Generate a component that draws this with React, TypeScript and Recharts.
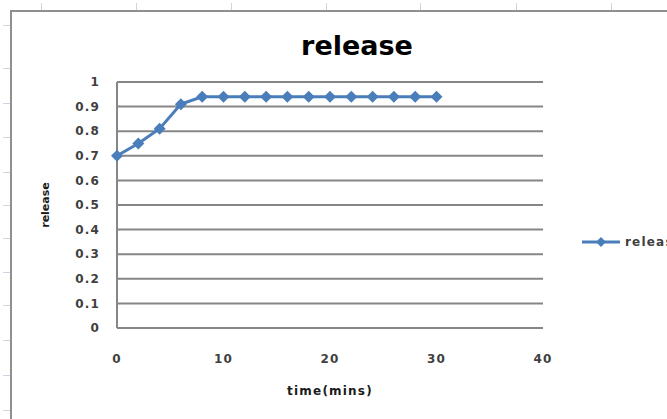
import React from 'react';
import { LineChart, Line, XAxis, YAxis, CartesianGrid, Legend, Label } from 'recharts';

// Fraction released over time
const minutes = [0, 2, 4, 6, 8, 10, 12, 14, 16, 18, 20, 22, 24, 26, 28, 30];
const releaseFraction = [
  0.7, 0.75, 0.81, 0.91, 0.94, 0.94, 0.94, 0.94,
  0.94, 0.94, 0.94, 0.94, 0.94, 0.94, 0.94, 0.94,
];
const xTicks = [0, 10, 20, 30, 40];
const yTicks = [0, 0.1, 0.2, 0.3, 0.4, 0.5, 0.6, 0.7, 0.8, 0.9, 1];
const seriesName = 'release';
const chartTitle = 'release';
const xTitle = 'time(mins)';
const yTitle = 'release';

const data = minutes.map((t, i) => ({ time: t, release: releaseFraction[i] }));

const BLUE = '#4a7ebb';
const GRID = '#868686';
const LABEL = '#3f3f3f';
const FONT = '"DejaVu Sans", "Open Sans", sans-serif';

// worksheet cell edges peeking out around the embedded chart
const columnEdges = [41, 136, 231, 326, 420, 516, 611];
const rowEdges = [25, 68, 103, 137, 172, 205, 238, 272, 305, 340, 375, 410];

const diamondPath = (cx: number, cy: number, r: number) =>
  `M${cx},${cy - r}L${cx + r},${cy}L${cx},${cy + r}L${cx - r},${cy}Z`;

const renderDot = (p: any) => {
  if (p.cx == null || p.cy == null) return <g key={`d${p.index}`} />;
  return <path key={`d${p.index}`} d={diamondPath(p.cx, p.cy, 6)} fill={BLUE} />;
};

const LegendContent = (props: any) => {
  const items = props.payload || [];
  return (
    <div style={{ width: 140 }}>
      {items.map((entry: any) => (
        <div
          key={entry.value}
          style={{ display: 'flex', alignItems: 'center', height: 16, width: 140 }}
        >
          <svg width={44} height={16} style={{ display: 'block', flexShrink: 0 }}>
            <line x1={2} y1={8} x2={40} y2={8} stroke={BLUE} strokeWidth={3} />
            <path d={diamondPath(21, 8, 5)} fill={BLUE} />
          </svg>
          <span
            style={{
              fontFamily: FONT,
              fontWeight: 700,
              fontSize: 12,
              letterSpacing: 1.2,
              color: LABEL,
              marginLeft: 1,
              whiteSpace: 'nowrap',
              flexShrink: 0,
            }}
          >
            {entry.value}
          </span>
        </div>
      ))}
    </div>
  );
};

export default function App() {
  const tickStyle = { fill: LABEL, fontSize: 12, fontWeight: 700, fontFamily: FONT };
  return (
    <div
      style={{
        position: 'absolute',
        left: 0,
        top: 0,
        width: 667,
        height: 419,
        overflow: 'hidden',
        background: '#ffffff',
      }}
    >
      <style>{`.recharts-cartesian-axis-tick-value { letter-spacing: 1.2px; }`}</style>
      {columnEdges.map((x) => (
        <div
          key={`c${x}`}
          style={{ position: 'absolute', left: x, top: 3, width: 1, height: 8, background: '#cdd5e2' }}
        />
      ))}
      {rowEdges.map((y) => (
        <div
          key={`r${y}`}
          style={{ position: 'absolute', left: 3, top: y, width: 7, height: 1, background: '#cdd5e2' }}
        />
      ))}
      <div
        style={{
          position: 'absolute',
          left: 10,
          top: 10,
          width: 700,
          height: 450,
          borderLeft: '2px solid #8f8f8f',
          borderTop: '2px solid #8f8f8f',
        }}
      />
      <div
        style={{
          position: 'absolute',
          left: 257,
          top: 32,
          width: 200,
          textAlign: 'center',
          fontFamily: FONT,
          fontWeight: 700,
          fontSize: 27,
          lineHeight: '27px',
          color: '#000',
        }}
      >
        {chartTitle}
      </div>
      <div style={{ position: 'absolute', left: 0, top: 0 }}>
        <LineChart
          width={667}
          height={419}
          data={data}
          margin={{ top: 82, right: 124, bottom: 61, left: 37 }}
        >
          <CartesianGrid horizontal vertical={false} stroke={GRID} strokeWidth={2} />
          <XAxis
            dataKey="time"
            type="number"
            domain={[0, 40]}
            ticks={xTicks}
            height={30}
            tickLine={false}
            tickSize={0}
            tickMargin={26}
            axisLine={{ stroke: GRID, strokeWidth: 2 }}
            tick={tickStyle}
          >
            <Label
              value={xTitle}
              position="bottom"
              offset={28}
              style={{
                fill: '#1a1a1a',
                fontSize: 12,
                fontWeight: 700,
                fontFamily: FONT,
                letterSpacing: 1.2,
              }}
            />
          </XAxis>
          <YAxis
            type="number"
            domain={[0, 1]}
            ticks={yTicks}
            width={80}
            tickLine={false}
            tickSize={0}
            tickMargin={17}
            axisLine={{ stroke: GRID, strokeWidth: 2 }}
            tick={tickStyle}
            interval={0}
          >
            <Label
              value={yTitle}
              angle={-90}
              position="insideLeft"
              offset={8}
              style={{
                fill: '#1a1a1a',
                fontSize: 11,
                fontWeight: 700,
                fontFamily: FONT,
                textAnchor: 'middle',
              }}
            />
          </YAxis>
          <Legend
            content={<LegendContent />}
            wrapperStyle={{
              position: 'absolute',
              left: 580,
              top: 234,
              width: 0,
              height: 0,
              overflow: 'visible',
            }}
          />
          <Line
            type="linear"
            dataKey="release"
            name={seriesName}
            stroke={BLUE}
            strokeWidth={3}
            dot={renderDot}
            activeDot={false}
            isAnimationActive={false}
          />
        </LineChart>
      </div>
    </div>
  );
}
